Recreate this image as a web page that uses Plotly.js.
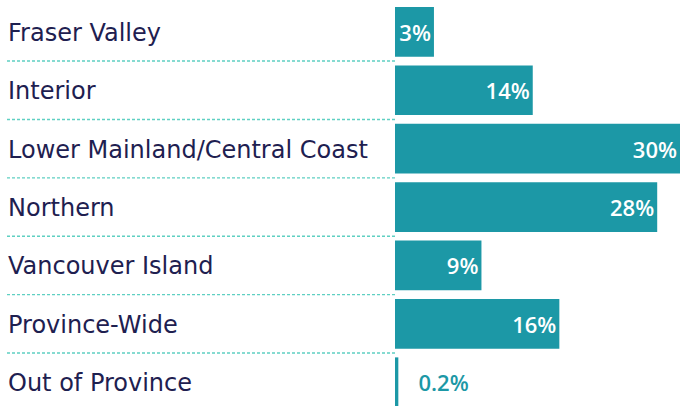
<!DOCTYPE html>
<html>
<head>
<meta charset="utf-8">
<script src="https://cdn.plot.ly/plotly-3.0.1.min.js"></script>
<style>html,body{margin:0;padding:0;background:#fff;}#chart{width:680px;height:406px;}</style>
</head>
<body>
<div id="chart"></div>
<script>
// Regions (top to bottom)
const regions = ["Fraser Valley", "Interior", "Lower Mainland/Central Coast", "Northern", "Vancouver Island", "Province-Wide", "Out of Province"];
// Bar lengths (percent)
const shares = [4.1, 14.5, 30, 27.6, 9.1, 17.3, 0.35];
// Printed value labels
const valueLabels = ["3%", "14%", "30%", "28%", "9%", "16%", "0.2%"];

const BAR = "#1c98a6";
const NAVY = "#1e2050";
const DASH = "#5fd0c2";

const idx = regions.map((_, i) => i);
const isInside = shares.map(v => v > 2);

const trace = {
  type: "bar",
  orientation: "h",
  y: idx,
  x: shares,
  text: valueLabels.map((t, i) => isInside[i] ? t : "\u00a0\u00a0\u00a0" + t),
  textposition: isInside.map(b => b ? "inside" : "outside"),
  insidetextanchor: "end",
  constraintext: "none",
  cliponaxis: false,
  textfont: {family: "'Open Sans', sans-serif", size: 22, color: isInside.map(b => b ? "#ffffff" : BAR), weight: 600},
  marker: {color: BAR, line: {width: 0}},
  hoverinfo: "none"
};

const plotLeft = 395, plotW = 680 - 395;
const labelX = (6 - plotLeft) / plotW;
const dashX0 = (7 - plotLeft) / plotW;

const annotations = regions.map((r, i) => ({
  xref: "paper", yref: "y", x: labelX, y: i, xanchor: "left", yanchor: "middle",
  yshift: -1,
  text: r, showarrow: false,
  font: {family: "'DejaVu Sans', sans-serif", size: 24, color: NAVY, weight: 400}
}));

const shapes = regions.slice(0, -1).map((_, i) => ({
  type: "line", xref: "paper", yref: "y",
  x0: dashX0, x1: 0, y0: i + 0.5, y1: i + 0.5,
  line: {color: DASH, width: 1.4, dash: "3px,2px"}
}));

const layout = {
  width: 680, height: 406,
  margin: {l: plotLeft, r: 0, t: 0, b: 0, pad: 0},
  paper_bgcolor: "#fff", plot_bgcolor: "#fff",
  showlegend: false,
  bargap: 0.149,
  xaxis: {range: [0, 30], visible: false, fixedrange: true},
  yaxis: {range: [6.407, -0.545], visible: false, fixedrange: true},
  annotations: annotations,
  shapes: shapes
};

Plotly.newPlot("chart", [trace], layout, {displayModeBar: false, staticPlot: true});
</script>
</body>
</html>
